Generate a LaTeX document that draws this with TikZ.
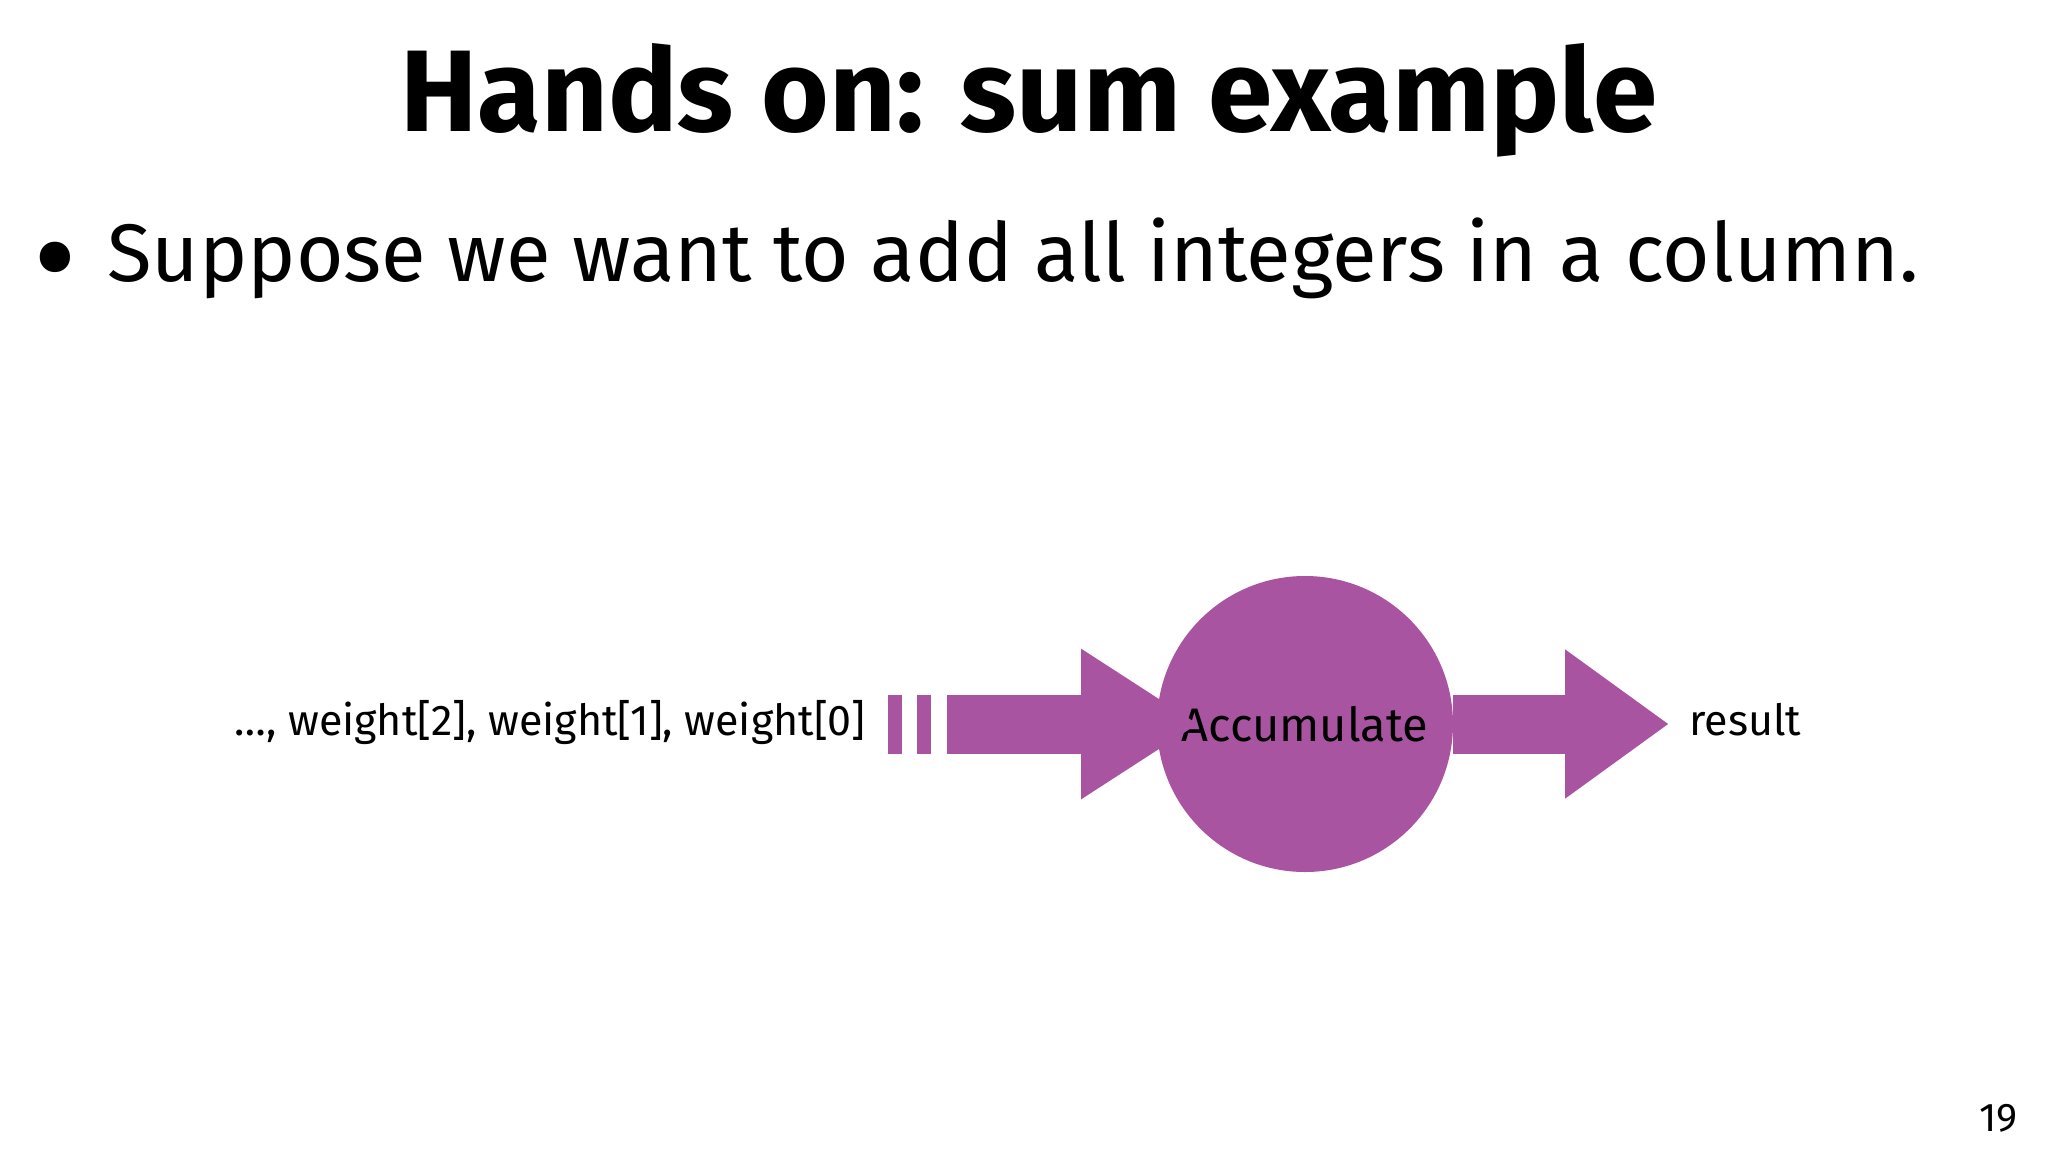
\documentclass[tikz,border=0pt]{standalone}
\usepackage{fontspec}
\setmainfont{Fira Sans}
\usepackage{tikz}
\usetikzlibrary{arrows.meta}
\definecolor{accpurple}{HTML}{A954A0}

\begin{document}
\begin{tikzpicture}[
                x=1pt,
                y=-1pt,
                line cap=butt,
                line join=miter,
                flow/.style={accpurple, line width=59pt,
                    -{Triangle[length=118pt, width=142pt]}},
                outflow/.style={accpurple, line width=59pt,
                    -{Triangle[length=104pt, width=142pt]}},
                plain/.style={inner sep=0pt, font=\fontsize{43}{52}\selectfont}
            ]

            \useasboundingbox[fill=white] (0,0) rectangle (2048,1152);

            \node[inner sep=0pt, anchor=base, font=\fontsize{116}{134}\selectfont\bfseries]
                (title) at (1029,131) {Hands on: sum example};

            \node[inner sep=0pt, anchor=base west, font=\fontsize{81.6}{98}\selectfont]
                (point) at (107,281) {\llap{\raisebox{-22pt}{\fontsize{135}{135}\selectfont\textbullet}\hspace{30pt}}Suppose we want to add all integers in a column.};

            % the accumulator
            \node[circle, fill=accpurple, minimum size=296pt, inner sep=0pt,
                font=\fontsize{47}{56}\selectfont] (acc) at (1305,724) {Accumulate};

            \node[plain, anchor=base east] (in) at (866,735) {\ldots, weight[2], weight[1], weight[0]};
            \node[plain, anchor=base west] (out) at (1689,735) {result};

            % stream of values coming in
            \foreach \bx in {22,51} {
                \fill[accpurple] ([xshift=\bx pt]in.east |- 0,695) rectangle ++(14,59);
            }
            \coordinate (feed) at ([xshift=81pt]in.east |- acc.center);
            \coordinate (sink) at ([xshift=-20pt]out.west |- acc.center);

            \draw[flow] (feed) -- ([xshift=-106pt]acc.center);
            \draw[outflow] (acc.east) -- (sink);

            \node[inner sep=0pt, anchor=base east, font=\fontsize{40}{48}\selectfont]
                (page) at (2018,1131) {19};

        \end{tikzpicture}
\end{document}
